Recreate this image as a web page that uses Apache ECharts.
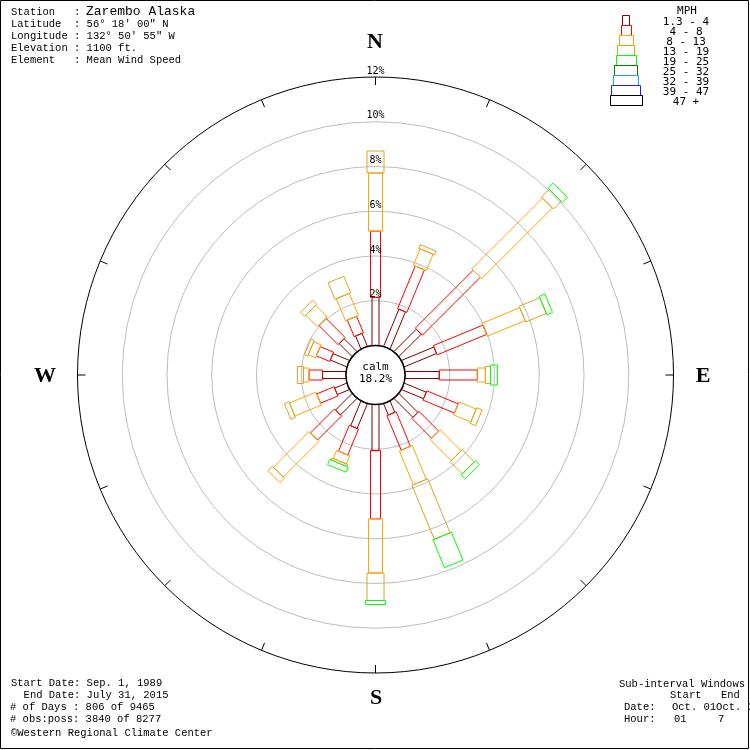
<!DOCTYPE html>
<html><head><meta charset="utf-8">
<script src="https://cdn.jsdelivr.net/npm/echarts@6/dist/echarts.min.js"></script>
<style>html,body{margin:0;padding:0;background:#fff}#c{width:750px;height:750px}</style>
</head><body><div id="c"></div>
<script>
// ---------- data ----------
const directions = ['N','NNE','NE','ENE','E','ESE','SE','SSE','S','SSW','SW','WSW','W','WNW','NW','NNW'];
const dirAngles  = [0,22.5,45,67.5,90,112.5,135,157.5,180,202.5,225,247.5,270,292.5,315,337.5];
const speedClasses = ['1.3 - 4','4 - 8','8 - 13','13 - 19','19 - 25','25 - 32','32 - 39','39 - 47','47 +'];
// percent frequency per direction, for each speed class
const spd_1_4   = [2.15,1.80,1.42,1.57,1.53,1.07,1.20,0.55,2.06,1.20,1.05,0.59,1.05,0.80,0.82,0.63];
const spd_4_8   = [2.96,2.06,3.66,2.39,1.70,1.52,1.25,1.67,3.05,1.26,1.52,0.84,0.60,0.65,1.22,0.80];
const spd_8_13  = [2.60,0.79,4.47,1.83,0.36,0.83,1.33,1.64,2.42,0.39,2.25,1.28,0.25,0.35,0.73,1.07];
const spd_13_19 = [0.98,0.18,0.49,1.00,0.23,0.26,0.77,2.61,1.23,0.10,0.28,0.22,0.27,0.16,0.26,0.80];
const spd_19_25 = [0,0,0.32,0.27,0.31,0,0.24,1.35,0.18,0.25,0,0,0,0,0,0];
const spd_25_32 = [0,0,0,0,0,0,0,0,0,0,0,0,0,0,0,0];
const spd_32_39 = [0,0,0,0,0,0,0,0,0,0,0,0,0,0,0,0];
const spd_39_47 = [0,0,0,0,0,0,0,0,0,0,0,0,0,0,0,0];
const spd_47p   = [0,0,0,0,0,0,0,0,0,0,0,0,0,0,0,0];
const ringTicks = [2,4,6,8,10,12];
const ringLabels = ['2%','4%','6%','8%','10%','12%'];
const calmPct = 18.2;

// ---------- styles ----------
const classColors = ['#800000','#ff0000','#ffa500','#daa520','#00ff00','#008000','#1ea0f0','#1e1ee6','#000000'];
const classWidths = [7,10,14,17,20,23,25,29,32];
const RMIN = -1.32;
const monoFont = '"Liberation Mono", monospace';
const pixFont = '"DejaVu Sans Mono", monospace';

const classArrays = [spd_1_4,spd_4_8,spd_8_13,spd_13_19,spd_19_25,spd_25_32,spd_32_39,spd_39_47,spd_47p];
const barData = [];
dirAngles.forEach((a, i) => {
  let cum = 0;
  classArrays.forEach((arr, k) => {
    const v = arr[i];
    if (v > 0) { barData.push([cum, a, cum + v, k]); cum += v; }
  });
});

function renderBar(params, api) {
  const s = api.value(0), a = api.value(1), e = api.value(2), k = api.value(3);
  const p0 = api.coord([s, a]), p1 = api.coord([e, a]);
  const c = api.coord([RMIN, a]), q = api.coord([12, a]);
  let dx = q[0]-c[0], dy = q[1]-c[1]; const L = Math.hypot(dx, dy) || 1;
  const ux = dx/L, uy = dy/L, h = classWidths[k]/2;
  const nx = -uy*h, ny = ux*h;
  return { type:'polygon', shape:{ points:[[p0[0]+nx,p0[1]+ny],[p1[0]+nx,p1[1]+ny],[p1[0]-nx,p1[1]-ny],[p0[0]-nx,p0[1]-ny]] },
    style:{ fill:'none', stroke:classColors[k], lineWidth:1 } };
}
function renderRing(params, api) {
  const v = api.value(0);
  const c = api.coord([RMIN, 0]), p = api.coord([v, 0]);
  const r = Math.hypot(p[0]-c[0], p[1]-c[1]);
  return { type:'circle', shape:{ cx:c[0], cy:c[1], r:r },
    style:{ fill:'none', stroke: v === 12 ? '#000' : '#bdbdbd', lineWidth:1 } };
}
function renderRingLabel(params, api) {
  const v = api.value(0);
  const p = api.coord([v, 0]);
  return { type:'text', style:{ text: ringLabels[params.dataIndex], x:p[0], y:p[1]-6, align:'center', verticalAlign:'middle',
    font:'10px ' + pixFont, fill:'#000' } };
}
function renderTick(params, api) {
  const a = api.value(1);
  const c = api.coord([RMIN, a]), p = api.coord([12, a]);
  const dx = p[0]-c[0], dy = p[1]-c[1], L = Math.hypot(dx, dy);
  return { type:'line', shape:{ x1:p[0], y1:p[1], x2:p[0]-dx/L*8, y2:p[1]-dy/L*8 }, style:{ stroke:'#000', lineWidth:1 } };
}
function renderCalm(params, api) {
  const c = api.coord([RMIN, 0]), p = api.coord([0, 0]);
  const r = Math.hypot(p[0]-c[0], p[1]-c[1]);
  return { type:'group', children:[
    { type:'circle', shape:{ cx:c[0], cy:c[1], r:r }, style:{ fill:'#fff', stroke:'#000', lineWidth:1.5 } },
    { type:'text', style:{ text:'calm', x:c[0], y:c[1]-8, align:'center', verticalAlign:'middle', font:'11px ' + pixFont, fill:'#000' } },
    { type:'text', style:{ text: calmPct.toFixed(1) + '%', x:c[0], y:c[1]+4, align:'center', verticalAlign:'middle', font:'11px ' + pixFont, fill:'#000' } }
  ] };
}

// ---------- graphic texts ----------
const g = [];
g.push({ type:'rect', shape:{ x:0.5, y:0.5, width:748, height:748 }, style:{ fill:'none', stroke:'#000', lineWidth:1 }, z:0 });
function txt(t, x, y, font, opts) {
  g.push(Object.assign({ type:'text', x:x, y:y, style:{ text:t, font:font, fill:'#000', verticalAlign:'middle', align:'left' } }, opts || {}));
}
const f11 = '10.5px ' + monoFont;
txt('Station   : ', 11, 12.5, f11);
txt('Zarembo Alaska', 86, 12, '13px ' + monoFont);
txt("Latitude  : 56° 18' 00\" N", 11, 24.5, f11);
txt("Longitude : 132° 50' 55\" W", 11, 36.5, f11);
txt('Elevation : 1100 ft.', 11, 48.5, f11);
txt('Element   : Mean Wind Speed', 11, 60.5, f11);

txt('Start Date: Sep. 1, 1989', 11, 683, f11);
txt('  End Date: July 31, 2015', 11, 695, f11);
txt('# of Days : 806 of 9465', 10, 707, f11);
txt('# obs:poss: 3840 of 8277', 10, 719, f11);
txt('©Western Regional Climate Center', 11, 733, f11);

txt('Sub-interval Windows', 619, 684, f11);
txt('Start', 670, 695, f11);
txt('End', 721, 695, f11);
txt('Date:', 624, 707, f11);
txt('Oct. 01Oct. 31', 672, 707, f11);
txt('Hour:', 624, 719, f11);
txt('01', 674, 719, f11);
txt('7', 718, 719, f11);

// compass letters
const cf = 'bold 22px "Liberation Serif", serif';
[['N',375,42],['E',703,376],['S',376,698],['W',45,376]].forEach(d => {
  g.push({ type:'text', x:d[1], y:d[2], style:{ text:d[0], font:cf, fill:'#000', align:'center', verticalAlign:'middle' } });
});

// legend
g.push({ type:'text', x:687, y:11, style:{ text:'MPH', font:'11px ' + pixFont, fill:'#000', align:'center', verticalAlign:'middle' } });
speedClasses.forEach((s, k) => {
  const w = classWidths[k];
  g.push({ type:'rect', shape:{ x:Math.round(625.5 - w/2) + 0.5, y:15.5 + k*10, width:w, height:10 }, style:{ fill:'none', stroke:classColors[k], lineWidth:1 } });
  g.push({ type:'text', x:686, y:22 + k*10, style:{ text:s, font:'11px ' + pixFont, fill:'#000', align:'center', verticalAlign:'middle' } });
});

const option = {
  animation:false,
  backgroundColor:'#fff',
  polar:{ center:[375.5, 375], radius:[0, 298] },
  angleAxis:{ type:'value', min:0, max:360, startAngle:90, clockwise:true, show:false },
  radiusAxis:{ type:'value', min:RMIN, max:12, show:false },
  graphic: g,
  series:[
    { type:'custom', coordinateSystem:'polar', data: ringTicks.map(v => [v, 0]), renderItem: renderRing, z:1, silent:true },
    { type:'custom', coordinateSystem:'polar', data: dirAngles.map(a => [12, a]), renderItem: renderTick, z:1, silent:true },
    { type:'custom', coordinateSystem:'polar', data: barData, renderItem: renderBar, z:2, silent:true },
    { type:'custom', coordinateSystem:'polar', data: [[0,0]], renderItem: renderCalm, z:3, silent:true },
    { type:'custom', coordinateSystem:'polar', data: ringTicks.map(v => [v, 0]), renderItem: renderRingLabel, z:4, silent:true }
  ]
};
echarts.init(document.getElementById('c'), null, { renderer:'canvas' }).setOption(option);
</script></body></html>
